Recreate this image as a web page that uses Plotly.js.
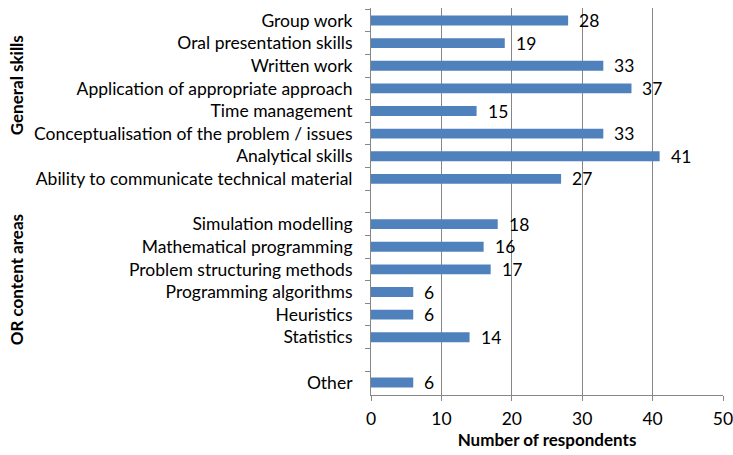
<!DOCTYPE html>
<html>
<head>
<meta charset="utf-8">
<script src="https://cdn.plot.ly/plotly-3.0.1.min.js"></script>
<style>html,body{margin:0;padding:0;background:#fff;}#chart{width:733px;height:455px;}</style>
</head>
<body>
<div id="chart"></div>
<script>
const categories = [
  "Group work",
  "Oral presentation skills",
  "Written work",
  "Application of appropriate approach",
  "Time management",
  "Conceptualisation of the problem / issues",
  "Analytical skills",
  "Ability to communicate technical material",
  " ",
  "Simulation modelling",
  "Mathematical programming",
  "Problem structuring methods",
  "Programming algorithms",
  "Heuristics",
  "Statistics",
  "  ",
  "Other"
];
const values = [28, 19, 33, 37, 15, 33, 41, 27, null, 18, 16, 17, 6, 6, 14, null, 6];
const groupLabels = ["General skills", "OR content areas"];
const xTicks = [0, 10, 20, 30, 40, 50];
const xTitle = "Number of respondents";

const FONT = "Lato, sans-serif";
const GRID = "#878787";

const annotations = [];
categories.forEach((c, i) => {
  if (values[i] !== null) {
    annotations.push({
      x: values[i], y: c, xref: "x", yref: "y",
      text: String(values[i]), showarrow: false,
      xanchor: "left", xshift: 9,
      font: {family: FONT, size: 17.5, color: "#000"}
    });
  }
});
annotations.push({
  x: -1.008, y: 0.801, xref: "paper", yref: "paper", text: "<b>" + groupLabels[0] + "</b>",
  xanchor: "center", yanchor: "middle",
  textangle: -90, showarrow: false, font: {family: FONT, size: 17, color: "#000"}
});
annotations.push({
  x: -1.008, y: 0.297, xref: "paper", yref: "paper", text: "<b>" + groupLabels[1] + "</b>",
  xanchor: "center", yanchor: "middle",
  textangle: -90, showarrow: false, font: {family: FONT, size: 17, color: "#000"}
});

const trace = {
  type: "bar", orientation: "h",
  x: values, y: categories,
  marker: {color: "#4F81BD", line: {width: 0}},
  width: 0.44,
  hoverinfo: "none"
};

const layout = {
  width: 733, height: 455,
  margin: {l: 371, r: 10, t: 8, b: 60},
  paper_bgcolor: "#fff", plot_bgcolor: "#fff",
  showlegend: false,
  xaxis: {
    range: [0, 50], tickvals: xTicks, ticktext: xTicks.map(String),
    showgrid: true, gridcolor: GRID, gridwidth: 1,
    zeroline: false, showline: true, linecolor: GRID, linewidth: 1,
    ticks: "outside", ticklen: 5, tickcolor: GRID,
    ticklabelstandoff: 3, ticklabeloverflow: "allow",
    tickfont: {family: FONT, size: 17.5, color: "#000"},
    title: {text: "<b>" + xTitle + "</b>", font: {family: FONT, size: 17, color: "#000"}, standoff: 6}
  },
  yaxis: {
    type: "category", autorange: "reversed",
    showgrid: false, zeroline: false,
    showline: true, linecolor: GRID, linewidth: 1,
    ticks: "outside", ticklen: 5, tickcolor: GRID, tickson: "boundaries",
    ticklabelstandoff: 14,
    tickfont: {family: FONT, size: 17.5, color: "#000"}
  },
  annotations: annotations,
  bargap: 0.56
};

Plotly.newPlot("chart", [trace], layout, {displayModeBar: false, staticPlot: true});
</script>
</body>
</html>
